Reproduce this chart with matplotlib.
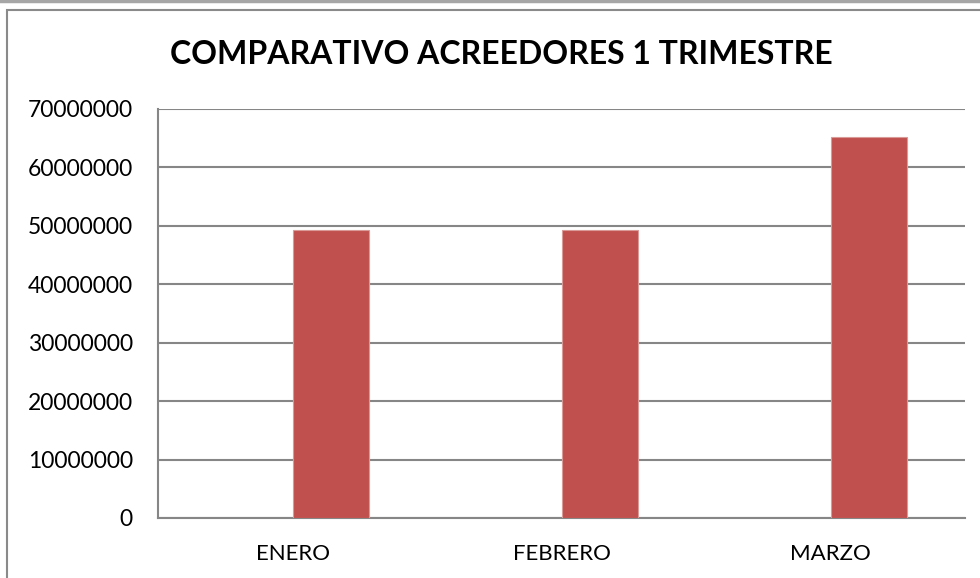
import matplotlib
matplotlib.use("Agg")
import matplotlib.pyplot as plt
from matplotlib.patches import Rectangle
from matplotlib.lines import Line2D

categories = ["ENERO", "FEBRERO", "MARZO"]
values = [49200000, 49200000, 65100000]
yticks = [0, 10000000, 20000000, 30000000, 40000000, 50000000, 60000000, 70000000]
title = "COMPARATIVO ACREEDORES 1 TRIMESTRE"

W, H = 980, 578
fig = plt.figure(figsize=(W / 100, H / 100), dpi=100)
fig.patch.set_facecolor("white")

# outer chart border (extends past right/bottom edges)
fig.add_artist(Rectangle((7 / W, -0.05), 1.1, 1 - 10 / H + 0.05, transform=fig.transFigure,
                         fill=False, edgecolor="#8a8a8a", linewidth=1.5))
fig.add_artist(Line2D([0, 1], [1 - 1.2 / H, 1 - 1.2 / H], transform=fig.transFigure,
                      color="#a6a6a6", linewidth=2.5))

left, right, top, bottom = 158, 965, 108.7, 518
ax = fig.add_axes([left / W, 1 - bottom / H, (right - left) / W, (bottom - top) / H])

x = list(range(len(categories)))
bar_w = 0.285
ax.bar(x, values, width=bar_w, align="edge", color="#C0504D",
       edgecolor="#d99a98", linewidth=0.8, zorder=3)

ax.set_xlim(-0.5, len(categories) - 0.5)
ax.set_ylim(0, 70000000)
ax.set_yticks(yticks)
ax.set_yticklabels([str(v) for v in yticks], fontsize=16.5, fontfamily="Lato")
ax.set_xticks(x)
ax.set_xticklabels(categories, fontsize=16, fontfamily="Lato")
ax.tick_params(axis="both", length=0)
ax.tick_params(axis="y", pad=18)
ax.tick_params(axis="x", pad=19)
ax.yaxis.grid(True, color="#868686", linewidth=1.5, zorder=0)
ax.set_axisbelow(True)
for s in ["top", "right"]:
    ax.spines[s].set_visible(False)
for s in ["left", "bottom"]:
    ax.spines[s].set_color("#868686")
    ax.spines[s].set_linewidth(1.5)

fig.text(501 / W, 1 - 54 / H, title, ha="center", va="center",
         fontsize=23, fontweight="bold", fontfamily="Lato")

fig.savefig("out.png", dpi=100)
